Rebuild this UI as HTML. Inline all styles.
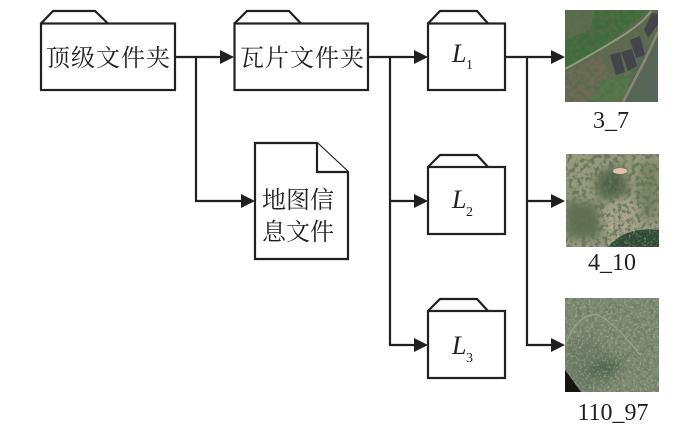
<!DOCTYPE html>
<html>
<head>
<meta charset="utf-8">
<style>
html,body{margin:0;padding:0;background:#fff;width:700px;height:428px;overflow:hidden}
svg{display:block}
.c{font-family:"Liberation Serif","Noto Serif CJK SC",serif;font-size:24px;fill:#231f20}
.l{font-family:"Liberation Serif",serif;font-size:26px;font-style:italic;fill:#231f20}
.s{font-family:"Liberation Serif",serif;font-size:14px;fill:#231f20}
.n{font-family:"Liberation Serif",serif;font-size:24px;fill:#231f20;text-anchor:middle}
.b{fill:#fff;stroke:#231f20;stroke-width:2.2}
.w{fill:none;stroke:#231f20;stroke-width:2.2}
</style>
</head>
<body>
<svg width="700" height="428" viewBox="0 0 700 428" xmlns="http://www.w3.org/2000/svg">
<defs>
<filter id="t1" x="0" y="0" width="100%" height="100%"><feTurbulence type="fractalNoise" baseFrequency="0.2" numOctaves="3" seed="4"/><feColorMatrix values="0 0 0 0 0.1  0 0 0 0 0.14  0 0 0 0 0.08  4 0 0 0 -1.7"/></filter>
<filter id="t2" x="0" y="0" width="100%" height="100%"><feTurbulence type="fractalNoise" baseFrequency="0.22" numOctaves="3" seed="9"/><feColorMatrix values="0 0 0 0 0.12  0 0 0 0 0.17  0 0 0 0 0.1  5 0 0 0 -2.3"/></filter>
<filter id="t3" x="0" y="0" width="100%" height="100%"><feTurbulence type="fractalNoise" baseFrequency="0.45" numOctaves="2" seed="3"/><feColorMatrix values="0 0 0 0 0.72  0 0 0 0 0.72  0 0 0 0 0.6  4 0 0 0 -2"/></filter>
<filter id="bl" x="-40%" y="-40%" width="180%" height="180%"><feGaussianBlur stdDeviation="5"/></filter>
<clipPath id="a"><rect x="565" y="10" width="93" height="92"/></clipPath>
<clipPath id="b"><rect x="566" y="154" width="93" height="93"/></clipPath>
<clipPath id="d"><rect x="565" y="298" width="94" height="94"/></clipPath>
</defs>

<!-- Connectors -->
<g class="w">
<path d="M175 57H221"/>
<path d="M196 57V201H241"/>
<path d="M368 57H415"/>
<path d="M390 57V345H415"/>
<path d="M390 201H415"/>
<path d="M505 57H552"/>
<path d="M527 57V345H552"/>
<path d="M527 201H552"/>
</g>
<g fill="#231f20">
<path d="M220 50L234 57L220 64Z"/>
<path d="M241 194L255 201L241 208Z"/>
<path d="M414 50L428 57L414 64Z"/>
<path d="M414 194L428 201L414 208Z"/>
<path d="M414 338L428 345L414 352Z"/>
<path d="M551 50L565 57L551 64Z"/>
<path d="M551 194L565 201L551 208Z"/>
<path d="M551 338L565 345L551 352Z"/>
</g>

<!-- Folders -->
<g class="b">
<path d="M41 23.5L53 11H95L108 23.5"/><rect x="41" y="23.5" width="134" height="66.5"/>
<path d="M234.5 23.5L247 11H289L301 23.5"/><rect x="234.5" y="23.5" width="133.5" height="66.5"/>
<path d="M428 23.5L440 11H477L488 23.5"/><rect x="428" y="23.5" width="77" height="66.5"/>
<path d="M428 167L440 155H477L488 167"/><rect x="428" y="167" width="77" height="67"/>
<path d="M428 311L440 299H477L488 311"/><rect x="428" y="311" width="77" height="67"/>
<path d="M255 143H317L348 172V259H255Z"/>
<path d="M317 143V172H348"/>
</g>

<!-- Text -->
<text class="c" x="46" y="66" style="letter-spacing:1px">顶级文件夹</text>
<text class="c" x="240" y="66" style="letter-spacing:1px">瓦片文件夹</text>
<text class="c" x="262" y="208">地图信</text>
<text class="c" x="262" y="240">息文件</text>
<text class="l" x="452" y="62">L</text><text class="s" x="466" y="69">1</text>
<text class="l" x="452" y="208">L</text><text class="s" x="466" y="216">2</text>
<text class="l" x="452" y="354">L</text><text class="s" x="466" y="362">3</text>
<text class="n" x="611" y="128">3_7</text>
<text class="n" x="612" y="270">4_10</text>
<text class="n" x="613" y="420">110_97</text>

<!-- Image 1 -->
<g clip-path="url(#a)">
<rect x="565" y="10" width="93" height="92" fill="#5f6a50"/>
<path d="M565 10H650L600 50L565 68Z" fill="#3f6d3a"/>
<path d="M565 10H595L590 30L565 40Z" fill="#5b6d4e"/>
<path d="M565 72L600 55L612 78L590 102H565Z" fill="#6d6a55"/>
<path d="M600 80L635 70L622 102H590Z" fill="#55774a"/>
<path d="M635 60L658 35V102H625Z" fill="#55665a"/>
<rect x="565" y="10" width="93" height="92" filter="url(#t1)" opacity=".8"/>
<path d="M610 55L620 52L625 72L616 75Z M621 52L632 49L637 66L628 71Z M630 40L640 36L645 55L636 58Z M644 30L652 13L658 14V24L648 38Z" fill="#45444c"/>
<path d="M565 69Q600 50 622 36T651 11" fill="none" stroke="#8b9a7c" stroke-width="2"/>
<path d="M623 102L645 60L658 32" fill="none" stroke="#8d8672" stroke-width="2.5"/>
</g>

<!-- Image 2 -->
<g clip-path="url(#b)">
<rect x="566" y="154" width="93" height="93" fill="#989a7e"/>
<path d="M596 176L620 165L630 195L600 200Z" fill="#4e6047" filter="url(#bl)"/>
<path d="M566 200L600 205V238H566Z" fill="#5f6e50" filter="url(#bl)"/>
<path d="M640 165L659 160V215L640 220Z" fill="#7a8263" filter="url(#bl)"/>
<path d="M600 210L632 196L640 225L610 238Z" fill="#aba592" filter="url(#bl)"/>
<rect x="566" y="154" width="93" height="93" filter="url(#t2)" opacity=".85"/>
<path d="M608 247Q625 226 659 230V247Z" fill="#2f4a33"/>
<rect x="608" y="226" width="51" height="21" filter="url(#t3)" opacity=".35"/>
<ellipse cx="620" cy="171" rx="7" ry="3" fill="#e2c2ad"/>
</g>

<!-- Image 3 -->
<g clip-path="url(#d)">
<rect x="565" y="298" width="94" height="94" fill="#7c8870"/>
<path d="M565 345L590 335L615 360L600 392H565Z" fill="#6d7c66" filter="url(#bl)"/>
<path d="M578 372Q600 358 625 360L610 378Z" fill="#4f6350" filter="url(#bl)"/>
<rect x="565" y="298" width="94" height="94" filter="url(#t2)" opacity=".5"/>
<rect x="565" y="298" width="94" height="94" filter="url(#t3)" opacity=".3"/>
<path d="M565 345Q575 320 590 315T640 355" fill="none" stroke="#a7a68f" stroke-width="1.5" opacity=".7"/>
<path d="M565 370L581 392H565Z" fill="#17130f"/>
</g>
</svg>
</body>
</html>
